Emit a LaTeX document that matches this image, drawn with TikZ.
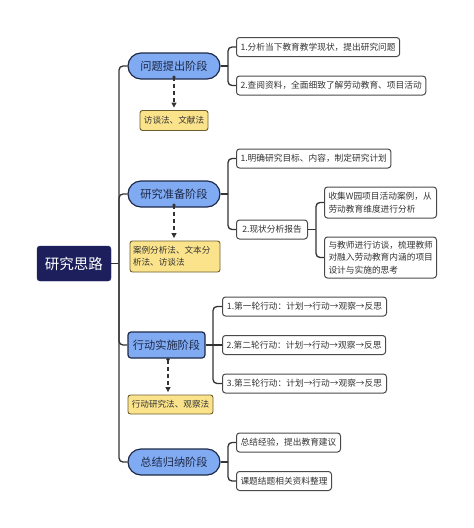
\documentclass[tikz,border=0pt]{standalone}
\usepackage{fontspec}
\setmainfont{Noto Sans CJK SC}
\usetikzlibrary{arrows.meta}
\definecolor{rootfill}{HTML}{1C1F5C}
\definecolor{stagefill}{HTML}{80AAF2}
\definecolor{stageline}{HTML}{1E2A48}
\definecolor{yfill}{HTML}{FBE38C}
\definecolor{yline}{HTML}{6B5E2E}
\definecolor{leafline}{HTML}{4A4A4A}
\definecolor{conncol}{HTML}{333333}
\definecolor{txt}{HTML}{333333}
\tikzset{
  rootbox/.style={draw=rootfill, fill=rootfill, text=white, rounded corners=3pt, minimum width=74pt, minimum height=35pt, inner sep=0pt, font=\fontsize{14.5pt}{16pt}\selectfont},
  stagebox/.style={draw=stageline, line width=1.2pt, fill=stagefill, text=stageline, rounded corners=13pt, minimum height=26pt, minimum width=92pt, inner sep=0pt, font=\fontsize{11.2pt}{13pt}\selectfont},
  ybox/.style={draw=yline, line width=0.9pt, fill=yfill, text=txt, rounded corners=2.5pt, inner sep=0pt, font=\fontsize{8.6pt}{12pt}\selectfont},
  leaf/.style={draw=leafline, line width=1pt, fill=white, text=txt, rounded corners=3pt, anchor=west, inner xsep=4pt, inner ysep=0pt, minimum height=19pt, align=left, font=\fontsize{8.7pt}{12.5pt}\selectfont},
  conn/.style={draw=conncol, line width=1.3pt, rounded corners=4pt},
  darr/.style={draw=conncol, line width=1.2pt, dash pattern=on 4pt off 3pt, shorten >=2.5pt, -{Triangle[length=5pt,width=5pt]}},
}
\begin{document}
\begin{tikzpicture}[x=1pt,y=-1pt]
\useasboundingbox (0,0) rectangle (474,528);
% root
\node[rootbox] (root) at (74,263.5) {研究思路};
% stages
\node[stagebox] (s1) at (174,66) {问题提出阶段};
\node[stagebox] (s2) at (174,194) {研究准备阶段};
\node[stagebox, rounded corners=3pt, minimum width=77pt] (s3) at (166.5,345) {行动实施阶段};
\node[stagebox] (s4) at (174,462) {总结归纳阶段};
% method boxes
\node[ybox, minimum width=68pt, minimum height=20pt] (y1) at (174,120.5) {访谈法、文献法};
\node[ybox, minimum width=90pt, minimum height=31pt, text width=84pt, align=left] (y2) at (175,256.5) {案例分析法、文本分\\析法、访谈法};
\node[ybox, minimum width=85pt, minimum height=19pt] (y3) at (170.5,404.5) {行动研究法、观察法};
% leaves
\node[leaf, minimum width=163pt] (l11) at (236,47) {1.分析当下教育教学现状，提出研究问题};
\node[leaf, minimum width=189pt] (l12) at (236,85.5) {2.查阅资料，全面细致了解劳动教育、项目活动};
\node[leaf, minimum width=154pt] (l21) at (236,158.5) {1.明确研究目标、内容，制定研究计划};
\node[leaf, minimum width=71pt] (l22) at (236,229.5) {2.现状分析报告};
\node[leaf, minimum width=112pt, minimum height=31pt, text width=104pt] (l221) at (324,202.5) {收集W园项目活动案例，从\\劳动教育维度进行分析};
\node[leaf, minimum width=112pt, minimum height=41pt, text width=104pt] (l222) at (324,257.5) {与教师进行访谈，梳理教师\\对融入劳动教育内涵的项目\\设计与实施的思考};
\node[leaf, minimum width=164pt] (l31) at (222,306.5) {1.第一轮行动：计划→行动→观察→反思};
\node[leaf, minimum width=162pt] (l32) at (222,345) {2.第二轮行动：计划→行动→观察→反思};
\node[leaf, minimum width=164pt] (l33) at (222,383.5) {3.第三轮行动：计划→行动→观察→反思};
\node[leaf, minimum width=104pt] (l41) at (236,442.5) {总结经验，提出教育建议};
\node[leaf, minimum width=95pt] (l42) at (236,481) {课题结题相关资料整理};
% junction coordinates
\coordinate (t) at (119,263.5);
\coordinate (b1) at (228,66);
\coordinate (b2) at (228,194);
\coordinate (b22) at (316,229.5);
\coordinate (b3) at (213,345);
\coordinate (b4) at (228,462);
% trunk
\draw[conn] (root.east) -- (t);
\draw[conn] (t) |- (s1.west);
\draw[conn] (t) |- (s2.west);
\draw[conn] (t) |- (s3.west);
\draw[conn] (t) |- (s4.west);
% stage 1
\draw[conn] (s1.east) -- (b1);
\draw[conn] (b1) |- (l11.west);
\draw[conn] (b1) |- (l12.west);
% stage 2
\draw[conn] (s2.east) -- (b2);
\draw[conn] (b2) |- (l21.west);
\draw[conn] (b2) |- (l22.west);
\draw[conn] (l22.east) -- (b22);
\draw[conn] (b22) |- (l221.west);
\draw[conn] (b22) |- (l222.west);
% stage 3
\draw[conn] (s3.east) -- (b3);
\draw[conn] (b3) |- (l31.west);
\draw[conn] (b3) -- (l32.west);
\draw[conn] (b3) |- (l33.west);
% stage 4
\draw[conn] (s4.east) -- (b4);
\draw[conn] (b4) |- (l41.west);
\draw[conn] (b4) |- (l42.west);
% dashed arrows
\coordinate (a1) at ([yshift=2.5pt]s1.south);
\fill[conncol] (a1) circle (1.8pt);
\draw[darr] (a1) -- (a1 |- y1.north);
\coordinate (a2) at ([yshift=2.5pt]s2.south);
\fill[conncol] (a2) circle (1.8pt);
\draw[darr] (a2) -- (a2 |- y2.north);
\coordinate (a3) at (168,359.5);
\fill[conncol] (a3) circle (1.8pt);
\draw[darr] (a3) -- (a3 |- y3.north);
\end{tikzpicture}
\end{document}
